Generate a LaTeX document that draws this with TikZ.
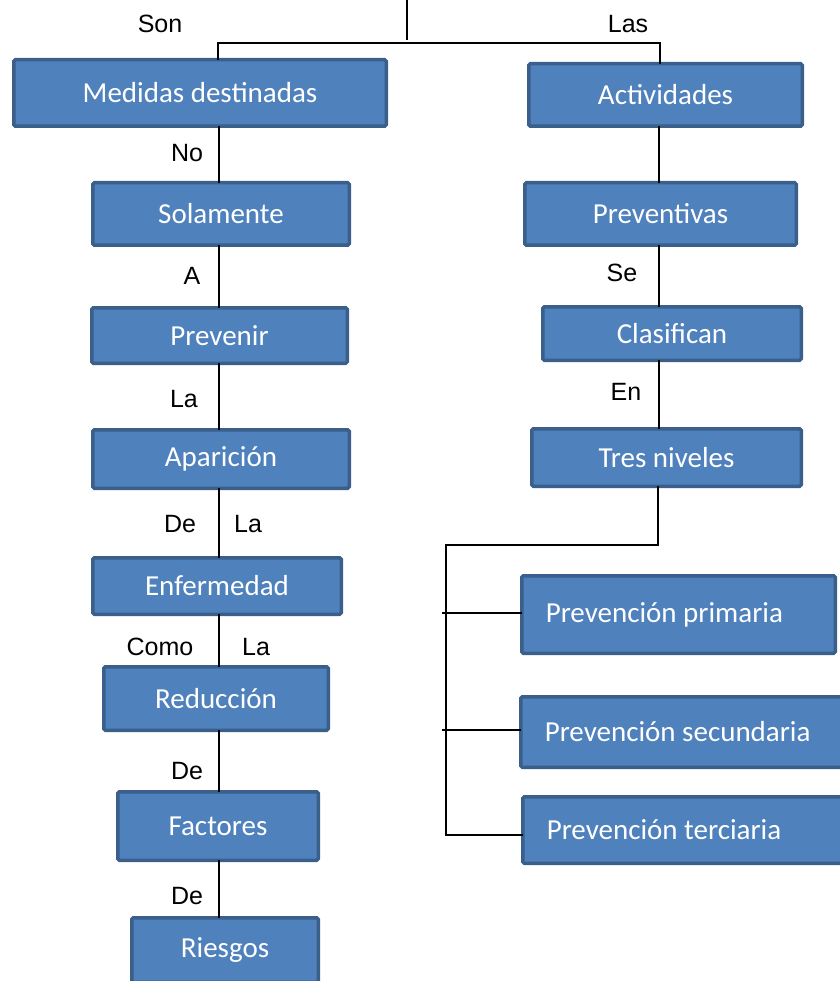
\documentclass[tikz,border=0pt]{standalone}
\usepackage{fontspec}
\setmainfont{Carlito}
\newfontfamily\arialf{Liberation Sans}
\definecolor{boxfill}{HTML}{4F81BD}
\definecolor{boxline}{HTML}{3A5F8B}
\begin{document}
\begin{tikzpicture}[x=1pt,y=-1pt,
  box/.style={draw=boxline, fill=boxfill, line width=3.5pt, rounded corners=1.5pt,
    text=white, font=\fontsize{29}{34}\selectfont, inner sep=0pt, outer sep=0pt},
  pbox/.style={box, align=flush left, inner xsep=24pt},
  lbl/.style={font=\arialf\fontsize{25}{30}\selectfont, text=black, inner sep=0pt},
  conn/.style={draw=black, line width=1.5pt}]
\useasboundingbox (0,0) rectangle (839,981);
% boxes
\node[box, minimum width=372.5, minimum height=66.5] (med) at (200,93) {Medidas destinadas};
\node[box, minimum width=273.5, minimum height=62.5] (act) at (665.5,95) {Actividades};
\node[box, minimum width=256.5, minimum height=62.5] (sol) at (221,214) {Solamente};
\node[box, minimum width=271.5, minimum height=62.5] (pre) at (660.5,214) {Preventivas};
\node[box, minimum width=255.5, minimum height=55.5] (pvn) at (219.5,335.5) {Prevenir};
\node[box, minimum width=258.5, minimum height=53.5] (cla) at (672,333.5) {Clasifican};
\node[box, minimum width=256.5, minimum height=58.5] (apa) at (221,459) {Aparición};
\node[box, minimum width=269.5, minimum height=57.5] (tres) at (666.5,457.5) {Tres niveles};
\node[box, minimum width=248.5, minimum height=56.5] (enf) at (217,586) {Enfermedad};
\node[box, minimum width=224.5, minimum height=63.5] (red) at (216,698.5) {Reducción};
\node[box, minimum width=200.5, minimum height=68.5] (fac) at (218,826) {Factores};
\node[box, minimum width=186.5, minimum height=64.5] (rie) at (225,950) {Riesgos};
\node[pbox, text width=265.5, minimum height=77.5] (pp) at (678.5,614.5) {Prevención primaria};
\node[pbox, text width=274.5, minimum height=70.5] (ps) at (682,732) {Prevención secundaria};
\node[pbox, text width=272.5, minimum height=66.5] (pt) at (683,830) {Prevención terciaria};
% spine coordinates
\coordinate (topa) at (407,0);
\coordinate (topb) at (407,40);
\coordinate (hl) at (218,43);
\coordinate (hr) at (660,43);
\coordinate (ls) at (219,0);
\coordinate (rs) at (659,0);
\coordinate (tb) at (658,545);
\coordinate (bl) at (446,545);
\coordinate (bb) at (446,835);
\coordinate (b1) at (442,613);
\coordinate (b2) at (442,730);
% connectors
\draw[conn] (topa) -- (topb);
\draw[conn] (hl |- med.north) -- (hl) -- (hr) -- (hr |- act.north);
\foreach \a/\b in {med/sol, sol/pvn, pvn/apa, apa/enf, enf/red, red/fac, fac/rie}
  \draw[conn] (\a.south -| ls) -- (\b.north -| ls);
\foreach \a/\b in {act/pre, pre/cla, cla/tres}
  \draw[conn] (\a.south -| rs) -- (\b.north -| rs);
\draw[conn] (tres.south -| tb) -- (tb) -- (bl) -- (bb) -- (pt.west |- bb);
\draw[conn] (b1) -- (pp.west |- b1);
\draw[conn] (b2) -- (ps.west |- b2);
% labels
\node[lbl] (l1) at (160,24) {Son};
\node[lbl] (l2) at (628,24) {Las};
\node[lbl] (l3) at (187,153) {No};
\node[lbl] (l4) at (192,276) {A};
\node[lbl] (l5) at (622,273) {Se};
\node[lbl] (l6) at (184,399) {La};
\node[lbl] (l7) at (626,392) {En};
\node[lbl] (l8) at (180,524) {De};
\node[lbl] (l9) at (248,524) {La};
\node[lbl] (l10) at (160,647) {Como};
\node[lbl] (l11) at (256,647) {La};
\node[lbl] (l12) at (187,771) {De};
\node[lbl] (l13) at (187,896) {De};
\end{tikzpicture}
\end{document}
